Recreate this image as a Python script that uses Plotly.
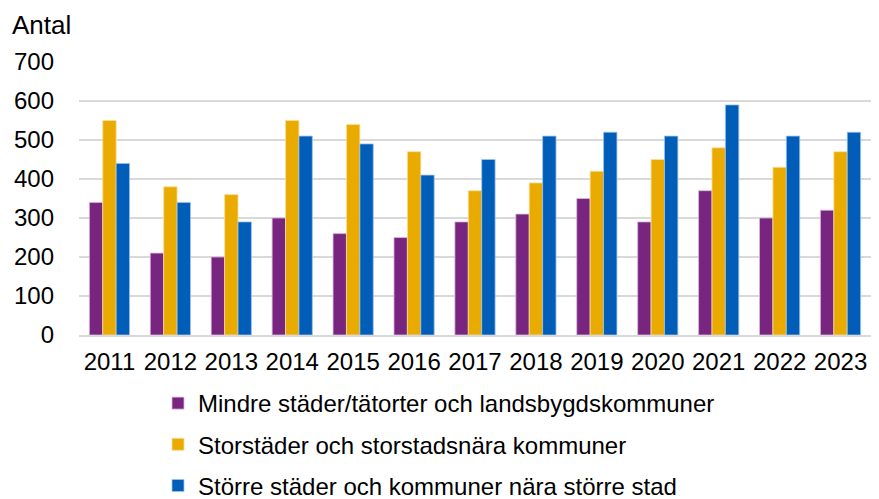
import plotly.graph_objects as go

years = ["2011", "2012", "2013", "2014", "2015", "2016", "2017",
         "2018", "2019", "2020", "2021", "2022", "2023"]
mindre = [340, 210, 200, 300, 260, 250, 290, 310, 350, 290, 370, 300, 320]
storstader = [550, 380, 360, 550, 540, 470, 370, 390, 420, 450, 480, 430, 470]
storre = [440, 340, 290, 510, 490, 410, 450, 510, 520, 510, 590, 510, 520]

names = ["Mindre städer/tätorter och landsbygdskommuner",
         "Storstäder och storstadsnära kommuner",
         "Större städer och kommuner nära större stad"]
colors = ["#77257F", "#EAAB00", "#005EB8"]
edges = ["#D9B8DC", "#F8DE9A", "#9EC3E8"]

font = "Liberation Sans, Arial, sans-serif"
# page body has an 8px margin, so the figure is sized to fit the window
W, H = 871, 491
L, R, T, B = 71, 8, 54, 164
PW, PH = W - L - R, H - T - B

fig = go.Figure()
for i, (vals, nm) in enumerate(zip([mindre, storstader, storre], names)):
    fig.add_trace(go.Bar(
        x=years, y=vals, name=nm, legendgroup=str(i),
        marker=dict(color=colors[i], line=dict(color=edges[i], width=0.8)),
    ))

fig.update_layout(
    width=W, height=H,
    margin=dict(l=L, r=R, t=T, b=B, autoexpand=False),
    paper_bgcolor="white", plot_bgcolor="white",
    barmode="group", bargap=0.34, bargroupgap=0,
    font=dict(family=font, size=24, color="#000000"),
    xaxis=dict(showgrid=False, showline=True, linecolor="#D9D9D9", linewidth=1.5,
               ticks="", ticklabelstandoff=4, tickfont=dict(size=24)),
    yaxis=dict(range=[0, 700], dtick=100, showgrid=True, gridcolor="#D9D9D9",
               gridwidth=1.5, zeroline=False, ticks="", ticklabelstandoff=24,
               tickfont=dict(size=24)),
    legend=dict(orientation="v", xref="container", yref="container",
                x=150 / W, xanchor="left", y=1 - 373 / H, yanchor="top",
                tracegroupgap=7, font=dict(size=24), itemclick=False),
    showlegend=True,
    annotations=[dict(text="Antal", xref="paper", yref="paper",
                      x=(2 - L) / PW, xanchor="left",
                      y=1 + T / PH, yanchor="top",
                      showarrow=False, font=dict(size=26))],
)

fig.write_html("out.html")
